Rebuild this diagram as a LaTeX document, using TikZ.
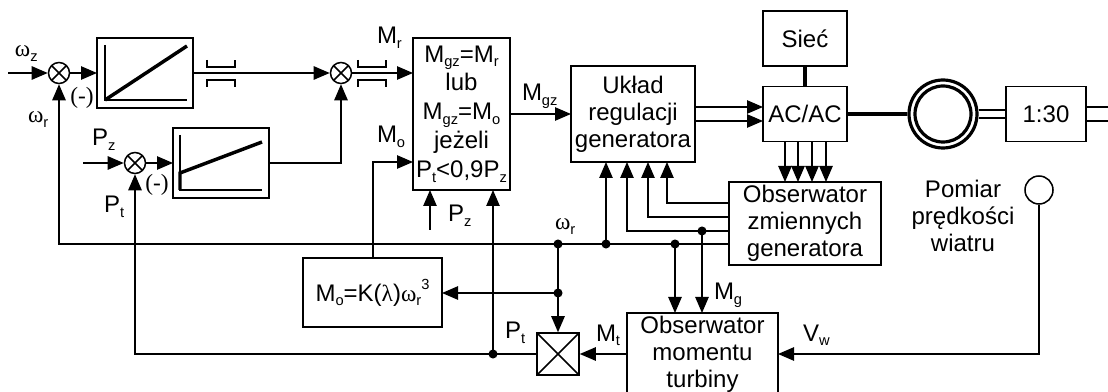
\documentclass[tikz,border=0pt]{standalone}
\usepackage{fontspec}
\setmainfont{Liberation Sans}
\newfontfamily\grec{Liberation Serif}
\usetikzlibrary{arrows.meta}
\newcommand{\dol}[1]{\raisebox{-3.6pt}{\fontsize{11}{11}\selectfont #1}}
\newcommand{\om}{{\grec\fontsize{17.5}{17.5}\selectfont ω}}
\newcommand{\lam}{{\grec\fontsize{17.5}{17.5}\selectfont λ}}
\begin{document}
\begin{tikzpicture}[x=0.75pt,y=-0.75pt,line width=1.15pt,
    >={Triangle[length=12pt,width=10pt]},
    txt/.style={font=\fontsize{18}{20.2}\selectfont,align=center,inner sep=0pt,outer sep=0pt},
    blok/.style={txt,draw,minimum width=#1},
    suma/.style={draw,circle,inner sep=0pt,minimum size=15.75pt,
      path picture={\draw (path picture bounding box.north west)--(path picture bounding box.south east)
        (path picture bounding box.north east)--(path picture bounding box.south west);}},
    opis/.style={txt,anchor=base west},
    minus/.style={txt,font=\grec\fontsize{17.5}{17.5}\selectfont},
    gruba/.style={line width=3pt},
    wykres/.style={line width=2.6pt}]
  \useasboundingbox (0,0) rectangle (1108,392);
  % wiersz regulatorow
  \node[suma] (sum1) at (59,73) {};
  \node[blok=72pt,minimum height=52.5pt] (pi1) at (145,73) {};
  \node[suma] (sum2) at (341,73) {};
  \node[suma] (sum3) at (135,163) {};
  \node[blok=72pt,minimum height=52.5pt] (pi2) at (221,163) {};
  \node[blok=72.75pt,minimum height=114pt,font=\fontsize{18}{21.6}\selectfont] (wyb) at (461.5,114)
    {M\dol{gz}=M\dol{r}\\lub\\M\dol{gz}=M\dol{o}\\jeżeli\\P\dol{t}<0,9P\dol{z}};
  \node[blok=93pt,minimum height=72pt] (reg) at (633,114) {Układ\\regulacji\\generatora};
  \node[blok=63pt,minimum height=41.25pt] (siec) at (805,38.5) {Sieć};
  \node[blok=63pt,minimum height=41.25pt] (acac) at (805,114) {AC/AC};
  \node[draw,circle,inner sep=0pt,minimum size=51pt,line width=2.4pt] (gen) at (943,114) {};
  \node[draw,circle,inner sep=0pt,minimum size=42pt,line width=2.4pt] (wir) at (943,114) {};
  \node[blok=60pt,minimum height=41.25pt] (prz) at (1046,114) {1:30};
  \node[blok=114pt,minimum height=62.25pt] (obs) at (805,223.5) {Obserwator\\zmiennych\\generatora};
  \node[blok=113.25pt,minimum height=61.5pt] (obm) at (702.5,354) {Obserwator\\momentu\\turbiny};
  \node[blok=104.25pt,minimum height=51.75pt] (mo) at (372.5,292.5)
    {M\dol{o}=K(\lam)\om\dol{r}\raisebox{9pt}{\fontsize{11}{11}\selectfont 3}};
  \node[draw,inner sep=0pt,minimum size=31.5pt,
    path picture={\draw (path picture bounding box.north west)--(path picture bounding box.south east)
      (path picture bounding box.north east)--(path picture bounding box.south west);}] (mno) at (558,354) {};
  \node[draw,circle,inner sep=0pt,minimum size=21pt] (wia) at (1039,190) {};
  \node[txt] (pom) at (963,216) {Pomiar\\prędkości\\wiatru};
  % wezly
  \coordinate (wej1) at (8,73);
  \coordinate (wej2) at (83,163);
  \coordinate (pz) at (430,230);
  \coordinate (wal) at (1108,114);
  \coordinate (j1) at (558,244);
  \coordinate (j2) at (606,244);
  \coordinate (j3) at (675,244);
  \coordinate (j4) at (702,231);
  \coordinate (j5) at (558,293);
  \coordinate (j6) at (493,354);
  \coordinate (r2) at (627,231);
  \coordinate (r3) at (648,217);
  \coordinate (r4) at (667,203);
  % wykresy
  \draw (105,45)--(105,100)--(187,100);
  \draw[wykres] (105,100)--(187,46);
  \draw (180,135)--(180,190)--(262,190);
  \draw[wykres] (180,190)--(180,173)--(262,142);
  % sprzegla
  \foreach \x in {207,358} {
    \draw (\x,60)--(\x,67)--(\x+28,67)--(\x+28,60);
    \draw (\x,87)--(\x,80)--(\x+28,80)--(\x+28,87);
  }
  % polaczenia
  \draw[->] (wej1)--(sum1);
  \draw[->] (sum1)--(pi1);
  \draw[->] (pi1)--(sum2);
  \draw[->] (sum2)--(wyb.west |- sum2);
  \draw[->] (wej2)--(sum3);
  \draw[->] (sum3)--(pi2);
  \draw[->] (pi2)-|(sum2);
  \draw[->] (obs.west |- j1)--(sum1 |- j1)--(sum1);
  \draw[->] (mno)--(j6)--(sum3 |- j6)--(sum3);
  \draw[->] (j6)--(j6 |- wyb.south);
  \draw[->] (pz)--(pz |- wyb.south);
  \draw[->] (mo.north -| 373,0)--(373,162)--(wyb.west |- 0,162);
  \draw[->] (wyb.east)--(reg.west);
  \draw[->] ([yshift=5.25pt]reg.east)--([yshift=5.25pt]acac.west);
  \draw[->] ([yshift=-5.25pt]reg.east)--([yshift=-5.25pt]acac.west);
  \draw[gruba] (siec)--(acac);
  \draw[gruba] (acac)--(gen);
  \draw ([yshift=3pt]gen.east)--([yshift=3pt]prz.west);
  \draw ([yshift=-3pt]gen.east)--([yshift=-3pt]prz.west);
  \draw ([yshift=5.25pt]prz.east)--([yshift=5.25pt]wal);
  \draw ([yshift=-5.25pt]prz.east)--([yshift=-5.25pt]wal);
  \foreach \s in {-20,-7,7,21}
    \draw[->] ([xshift=\s*0.75pt]acac.south)--([xshift=\s*0.75pt]acac.south |- obs.north);
  \draw[->] (j2)--(j2 |- reg.south);
  \draw[->] (obs.west |- r2)--(r2)--(r2 |- reg.south);
  \draw[->] (obs.west |- r3)--(r3)--(r3 |- reg.south);
  \draw[->] (obs.west |- r4)--(r4)--(r4 |- reg.south);
  \draw[->] (j3)--(j3 |- obm.north);
  \draw[->] (j4)--(j4 |- obm.north);
  \draw[->] (j1)--(j5)--(mno);
  \draw[->] (j5)--(mo.east |- j5);
  \draw[->] (obm)--(mno);
  \draw[->] (wia)--(wia |- obm.east)--(obm.east);
  \foreach \j in {j1,j2,j3,j4,j5,j6}
    \fill (\j) circle (3.4pt);
  % opisy
  \node[opis] (owz) at (15,57) {\om\dol{z}};
  \node[opis] (owr) at (28,123) {\om\dol{r}};
  \node[minus] (m1) at (82,98) {(-)};
  \node[minus] (m2) at (157,185) {(-)};
  \node[opis] (lpz) at (92,146) {P\dol{z}};
  \node[opis] (lpt) at (104,213) {P\dol{t}};
  \node[opis] (lmr) at (377,44) {M\dol{r}};
  \node[opis] (lmo) at (377,143) {M\dol{o}};
  \node[opis] (lmg) at (522,101) {M\dol{gz}};
  \node[opis] (lpz2) at (448,222) {P\dol{z}};
  \node[opis] (owr2) at (555,230) {\om\dol{r}};
  \node[opis] (lmg2) at (714,300) {M\dol{g}};
  \node[opis] (lmt) at (596,341) {M\dol{t}};
  \node[opis] (lpt2) at (505,339) {P\dol{t}};
  \node[opis] (lvw) at (803,341) {V\dol{w}};
\end{tikzpicture}
\end{document}
